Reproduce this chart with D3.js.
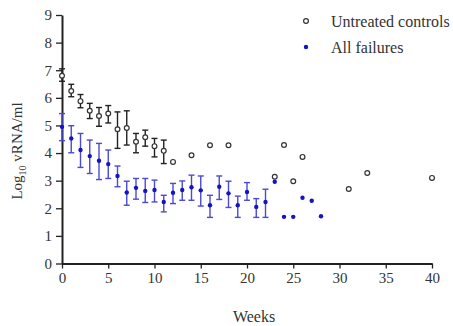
<!DOCTYPE html>
<meta charset="utf-8">
<style>
  body { margin: 0; background: #fff; }
  text { font-family: "Liberation Serif", "Times New Roman", serif; }
</style>
<svg width="453" height="326"></svg>
<script src="https://d3js.org/d3.v7.min.js"></script>
<script>
// untreated controls (open circles)
var ctrlWeeks = [0, 1, 2, 3, 4, 5, 6, 7, 8, 9, 10, 11, 12, 14, 16, 18, 23, 24, 25, 26, 31, 33, 40]
var ctrlMean  = [6.8, 6.25, 5.88, 5.53, 5.34, 5.43, 4.86, 4.91, 4.41, 4.57, 4.25, 4.08, 3.68, 3.92, 4.28, 4.28, 3.14, 4.29, 2.98, 3.86, 2.70, 3.28, 3.10]
var ctrlHigh  = [7.05, 6.49, 6.12, 5.80, 5.65, 5.72, 5.49, 5.53, 4.71, 4.83, 4.53, 4.47]
var ctrlLow   = [6.6, 6.04, 5.64, 5.25, 4.97, 5.09, 4.17, 4.29, 4.01, 4.25, 3.86, 3.62]

// all failures (filled dots)
var failWeeks = [0, 1, 2, 3, 4, 5, 6, 7, 8, 9, 10, 11, 12, 13, 14, 15, 16, 17, 18, 19, 20, 21, 22, 23, 24, 25, 26, 27, 28]
var failMean  = [4.95, 4.53, 4.11, 3.89, 3.72, 3.60, 3.17, 2.57, 2.74, 2.63, 2.66, 2.23, 2.56, 2.66, 2.76, 2.65, 2.11, 2.78, 2.54, 2.11, 2.59, 2.05, 2.23, 2.96, 1.69, 1.69, 2.38, 2.27, 1.71]
var failHigh  = [5.43, 4.99, 4.71, 4.47, 4.35, 4.11, 3.53, 2.98, 3.08, 3.08, 3.02, 2.47, 2.90, 2.99, 3.20, 3.17, 2.47, 3.17, 2.98, 2.44, 2.93, 2.35, 2.69]
var failLow   = [4.45, 4.01, 3.48, 3.26, 3.04, 3.08, 2.78, 2.11, 2.33, 2.21, 2.23, 1.87, 2.17, 2.29, 2.29, 2.08, 1.67, 2.32, 2.03, 1.67, 2.29, 1.67, 1.67]

var xTicks = [0, 5, 10, 15, 20, 25, 30, 35, 40]
var yTicks = [0, 1, 2, 3, 4, 5, 6, 7, 8, 9]

var black = '#222', blueDot = '#1414c0', blueBar = '#4a4ad2'

var svg = d3.select('svg')
var x = d3.scaleLinear().domain([0, 40]).range([62, 432])
var y = d3.scaleLinear().domain([0, 9]).range([263.5, 15])

// axes
var xAxis = svg.append('g')
  .attr('transform', 'translate(0,' + y(0) + ')')
  .call(d3.axisBottom(x).tickValues(xTicks).tickSize(5).tickSizeOuter(0).tickPadding(4))
var yAxis = svg.append('g')
  .attr('transform', 'translate(' + x(0) + ',0)')
  .call(d3.axisLeft(y).tickValues(yTicks).tickSize(6).tickSizeOuter(0).tickPadding(4))
svg.selectAll('.domain').attr('stroke', black).attr('stroke-width', 2)
svg.selectAll('.tick line').attr('stroke', black).attr('stroke-width', 1.3)
svg.selectAll('.tick text').attr('fill', '#333').style('font-size', '15px')
  .style('font-family', '"Liberation Serif", "Times New Roman", serif')

// error bars
function errorBars(weeks, hi, lo, color) {
  var g = svg.append('g').attr('stroke', color).attr('stroke-width', 1.4)
  hi.forEach(function (h, i) {
    var cx = x(weeks[i])
    g.append('line').attr('x1', cx).attr('x2', cx).attr('y1', y(h)).attr('y2', y(lo[i]))
    g.append('line').attr('x1', cx - 3).attr('x2', cx + 3).attr('y1', y(h)).attr('y2', y(h))
    g.append('line').attr('x1', cx - 3).attr('x2', cx + 3).attr('y1', y(lo[i])).attr('y2', y(lo[i]))
  })
}
errorBars(failWeeks, failHigh, failLow, blueBar)
errorBars(ctrlWeeks, ctrlHigh, ctrlLow, black)

svg.append('g').selectAll('circle')
  .data(failWeeks)
  .enter().append('circle')
    .attr('cx', function (d) { return x(d) })
    .attr('cy', function (d, i) { return y(failMean[i]) })
    .attr('r', 2.2)
    .attr('fill', blueDot)

svg.append('g').selectAll('circle')
  .data(ctrlWeeks)
  .enter().append('circle')
    .attr('cx', function (d) { return x(d) })
    .attr('cy', function (d, i) { return y(ctrlMean[i]) })
    .attr('r', 2.4)
    .attr('fill', '#fff')
    .attr('stroke', '#333')
    .attr('stroke-width', 1.2)

// legend
svg.append('circle').attr('cx', 306).attr('cy', 21).attr('r', 2.4)
  .attr('fill', '#fff').attr('stroke', '#333').attr('stroke-width', 1.2)
svg.append('circle').attr('cx', 306).attr('cy', 47).attr('r', 2.2).attr('fill', blueDot)
svg.append('text').attr('x', 331).attr('y', 27).attr('fill', '#333')
  .style('font-size', '16px').text('Untreated controls')
svg.append('text').attr('x', 331).attr('y', 53).attr('fill', '#333')
  .style('font-size', '16px').text('All failures')

// axis titles
svg.append('text').attr('x', 254).attr('y', 322).attr('text-anchor', 'middle')
  .attr('fill', '#333').style('font-size', '16px').text('Weeks')
var yl = svg.append('text')
  .attr('transform', 'translate(22,151) rotate(-90)')
  .attr('text-anchor', 'middle').attr('fill', '#333').style('font-size', '15px')
yl.append('tspan').text('Log')
yl.append('tspan').attr('dy', 4).style('font-size', '10px').text('10')
yl.append('tspan').attr('dy', -4).text(' vRNA/ml')
</script>
